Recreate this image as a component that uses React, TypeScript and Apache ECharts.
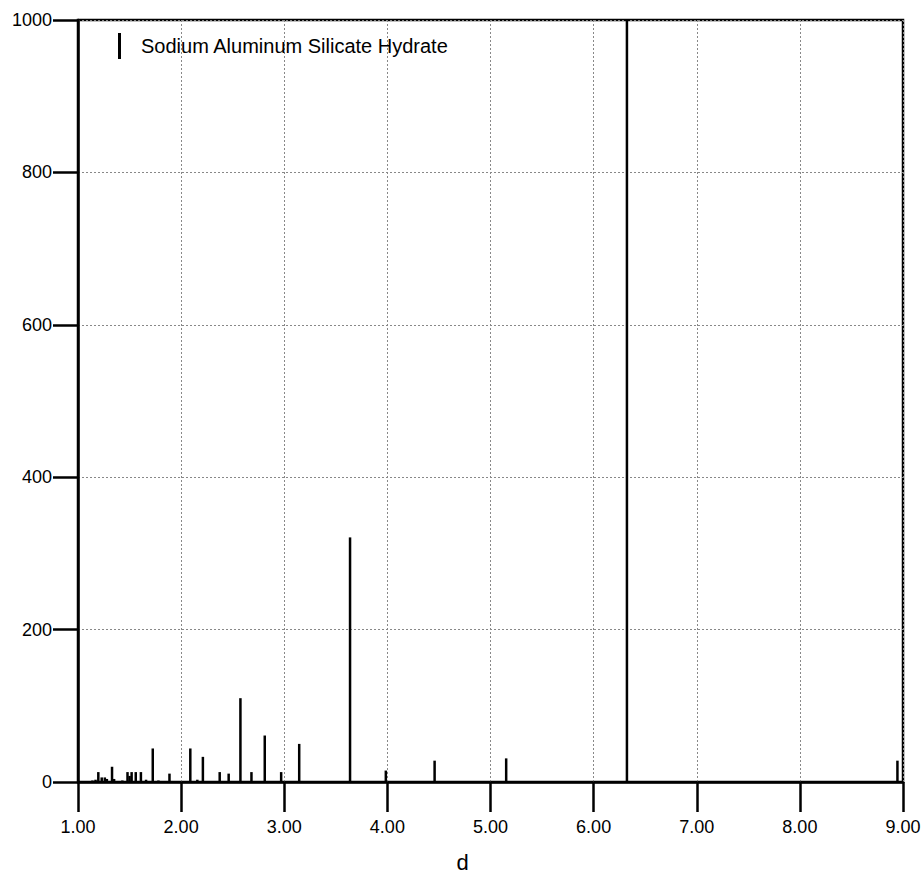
import React, { useEffect, useRef } from "react";
import * as echarts from "echarts";

// d-spacing (Å) of each reflection and its relative intensity
const dSpacings = [
  1.1, 1.14, 1.17, 1.197, 1.23, 1.26, 1.28, 1.33, 1.35, 1.43, 1.48, 1.5, 1.52,
  1.56, 1.61, 1.66, 1.725, 1.78, 1.887, 2.089, 2.157, 2.211, 2.374, 2.461,
  2.575, 2.682, 2.811, 2.97, 3.145, 3.638, 3.985, 4.458, 5.152, 6.323, 8.946,
];
const intensities = [
  1, 2, 3, 13, 6, 6, 4, 20, 4, 2, 13, 8, 13, 13, 13, 3, 44, 2, 11, 44, 3, 33,
  13, 11, 110, 13, 61, 13, 50, 321, 15, 28, 31, 1000, 28,
];
const seriesName = "Sodium Aluminum Silicate Hydrate";
const xTitle = "d";

const FONT = "'Liberation Sans', Arial, Helvetica, sans-serif";

export default function App() {
  const ref = useRef<HTMLDivElement>(null);

  useEffect(() => {
    if (!ref.current) return;
    const chart = echarts.init(ref.current, null, { renderer: "svg" });
    const data = dSpacings.map((d, i) => [d, intensities[i]]);

    chart.setOption({
      animation: false,
      backgroundColor: "#fff",
      grid: {
        left: 78,
        right: 21,
        top: 20,
        bottom: 91,
        show: true,
        borderColor: "#000",
        borderWidth: 2.5,
        backgroundColor: "transparent",
      },
      legend: {
        show: true,
        left: 118,
        top: 33,
        padding: 0,
        icon: "rect",
        itemWidth: 3,
        itemHeight: 26,
        data: [seriesName],
        textStyle: {
          fontFamily: FONT,
          fontSize: 20,
          color: "#000",
          padding: [0, 0, 0, 15],
        },
        selectedMode: false,
      },
      xAxis: {
        type: "value",
        min: 1,
        max: 9,
        interval: 1,
        name: xTitle,
        nameLocation: "middle",
        nameGap: 69,
        nameTextStyle: {
          fontFamily: FONT,
          fontSize: 22,
          color: "#000",
          padding: [0, 56, 0, 0],
        },
        axisLine: { show: true, onZero: false, lineStyle: { color: "#000", width: 2.5 } },
        axisTick: { show: true, length: 30, lineStyle: { color: "#000", width: 2.5 } },
        axisLabel: {
          margin: 36,
          fontFamily: FONT,
          fontSize: 18,
          color: "#000",
          formatter: (v: number) => v.toFixed(2),
        },
        splitLine: {
          show: true,
          lineStyle: { color: "#888", width: 1, type: [2, 2] },
        },
      },
      yAxis: {
        type: "value",
        min: 0,
        max: 1000,
        interval: 200,
        axisLine: { show: true, lineStyle: { color: "#000", width: 2.5 } },
        axisTick: { show: true, length: 25, lineStyle: { color: "#000", width: 2.5 } },
        axisLabel: {
          margin: 26,
          fontFamily: FONT,
          fontSize: 18,
          color: "#000",
          formatter: (v: number) => String(v),
        },
        splitLine: {
          show: true,
          lineStyle: { color: "#888", width: 1, type: [2, 2] },
        },
      },
      series: [
        {
          name: seriesName,
          type: "custom",
          itemStyle: { color: "#000" },
          data,
          encode: { x: 0, y: 1 },
          renderItem: (params: any, api: any) => {
            const base = api.coord([api.value(0), 0]);
            const top = api.coord([api.value(0), api.value(1)]);
            return {
              type: "line",
              shape: { x1: base[0], y1: base[1], x2: top[0], y2: top[1] },
              style: { stroke: "#000", lineWidth: 2.5 },
            };
          },
        },
      ],
    });

    return () => chart.dispose();
  }, []);

  // pinned to the viewport's corner so the body margin never shifts or scrolls it
  return (
    <div
      ref={ref}
      style={{ position: "fixed", left: 0, top: 0, width: 924, height: 878 }}
    />
  );
}
